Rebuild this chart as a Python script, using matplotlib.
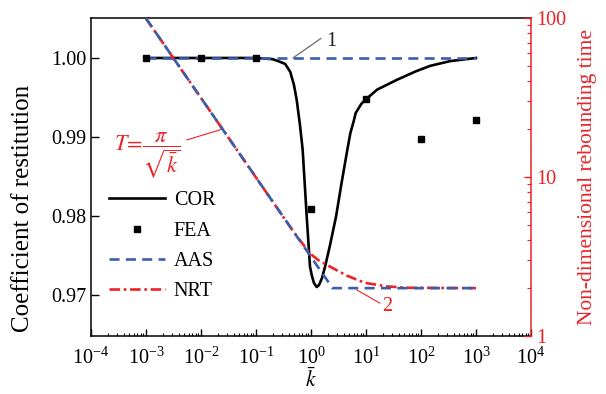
import matplotlib
matplotlib.use('Agg')
import matplotlib.pyplot as plt
from matplotlib.ticker import LogLocator, FixedLocator, NullFormatter, FuncFormatter

plt.rcParams['font.family'] = ['Liberation Serif', 'DejaVu Serif']
plt.rcParams['mathtext.fontset'] = 'stix'

# ---------------- data ----------------
cor_k = [1e-3, 1e-2, 0.1, 0.2, 0.27, 0.34, 0.42, 0.49, 0.55, 0.63, 0.706, 0.836, 0.959,
         1.04, 1.13, 1.27, 1.40, 1.585, 1.80, 2.2, 2.85, 3.6, 4.57, 5.2, 5.87, 6.5, 8.2,
         9.6, 16.0, 36.1, 80.0, 146, 336, 1000]
cor_val = [1.0, 1.0, 1.0, 0.99985, 0.99953, 0.99924, 0.99823, 0.99658, 0.99468, 0.99152,
           0.98835, 0.97991, 0.97358, 0.97241, 0.97152, 0.97101, 0.97127, 0.97215,
           0.97358, 0.97620, 0.97991, 0.98420, 0.98835, 0.99051, 0.99180, 0.99304,
           0.99418, 0.99468, 0.99600, 0.99722, 0.99830, 0.99900, 0.99960, 1.0]

fea_k = [1e-3, 1e-2, 1e-1, 1e0, 1e1, 1e2, 1e3]
fea_val = [1.0, 1.0, 1.0, 0.9809, 0.9948, 0.9898, 0.9921]

aas_cor_k = [1e-3, 1e3]
aas_cor_val = [1.0, 1.0]

aas_t_k = [1e-3, 2.47, 1e3]
aas_t_val = [99.3, 2.0, 2.0]

nrt_k = [1e-3, 0.1, 0.476, 0.96, 1.36, 1.93, 4.46, 7.78, 10.3, 23.8, 60, 1000]
nrt_val = [99.3, 9.93, 4.55, 3.3, 3.0, 2.8, 2.40, 2.22, 2.15, 2.05, 2.01, 2.0]

x_ticks = [1e-4, 1e-3, 1e-2, 1e-1, 1e0, 1e1, 1e2, 1e3, 1e4]
y_ticks = [0.97, 0.98, 0.99, 1.00]
y2_ticks = [1, 10, 100]

RED = '#ec2227'
BLUE = '#3a5dae'
FS = 14.5

fig = plt.figure(figsize=(6.06, 3.94), dpi=100)
ax = fig.add_axes([91/606, 1-336/394, 440/606, 318/394])
ax.set_xscale('log')
ax.set_xlim(1e-4, 1e4)
ax.set_ylim(0.96481, 1.00506)

ax2 = ax.twinx()
ax2.set_yscale('log')
ax2.set_ylim(1, 100)

# left-axis series
l_cor, = ax.plot(cor_k, cor_val, color='black', lw=1.9, zorder=3)
l_fea, = ax.plot(fea_k, fea_val, ls='none', marker='s', ms=4.2, color='black', zorder=5)
l_aas, = ax.plot(aas_cor_k, aas_cor_val, color=BLUE, lw=1.9, dashes=(3.8, 2.4), zorder=4)

# right-axis series
l_nrt, = ax2.plot(nrt_k, nrt_val, color=RED, lw=1.9, dashes=(4.0, 1.4, 1.0, 1.4), zorder=3)
ax2.plot(aas_t_k, aas_t_val, color=BLUE, lw=1.9, dashes=(3.8, 2.4), zorder=4)

# axes styling
ax.xaxis.set_major_locator(FixedLocator(x_ticks))
ax.xaxis.set_minor_locator(LogLocator(base=10, subs=range(2, 10), numticks=30))
ax.xaxis.set_minor_formatter(NullFormatter())
ax.yaxis.set_major_locator(FixedLocator(y_ticks))
ax.yaxis.set_major_formatter(FuncFormatter(lambda v, p: '%.2f' % v))
ax.tick_params(axis='x', which='major', direction='in', length=5, width=1, labelsize=FS, pad=8)
ax.tick_params(axis='x', which='minor', direction='in', length=2.5, width=0.8)
ax.tick_params(axis='y', direction='in', length=6, width=1, labelsize=FS)
ax.spines['right'].set_visible(False)
for s in ['left', 'bottom', 'top']:
    ax.spines[s].set_linewidth(1.1)

ax2.yaxis.set_major_locator(FixedLocator(y2_ticks))
ax2.yaxis.set_major_formatter(FuncFormatter(lambda v, p: '%g' % v))
ax2.yaxis.set_minor_formatter(NullFormatter())
ax2.tick_params(axis='y', which='major', direction='in', length=5, width=1, colors=RED,
                labelsize=FS, pad=4)
ax2.tick_params(axis='y', which='minor', direction='in', length=3, width=0.8, colors=RED)
ax2.spines['right'].set_color(RED)
ax2.spines['right'].set_linewidth(1.1)
for s in ['left', 'bottom', 'top']:
    ax2.spines[s].set_visible(False)

ax.set_ylabel('Coefficient of restitution', fontsize=18)
ax.yaxis.set_label_coords(-0.13, 0.40)
ax2.set_ylabel('Non-dimensional rebounding time', fontsize=FS + 1, color=RED, labelpad=8)
ax.set_xlabel(r'$\bar{k}$', fontsize=FS + 1, labelpad=0)

# annotations
ax.annotate('', xy=(0.47, 1.0), xytext=(1.52, 1.00248),
            arrowprops=dict(arrowstyle='-', color='#777777', lw=1, shrinkA=0, shrinkB=0))
ax.text(1.87, 1.00206, '1', fontsize=FS, color='#222222', ha='left', va='center')

ax2.annotate('', xy=(6.78, 1.95), xytext=(17.97, 1.607),
             arrowprops=dict(arrowstyle='-', color=RED, lw=0.8, shrinkA=0, shrinkB=0))
ax2.text(23.8, 1.528, '2', fontsize=FS, color=RED, ha='center', va='center')

ax2.annotate('', xy=(0.02377, 19.95), xytext=(0.0055, 17.1),
             arrowprops=dict(arrowstyle='-', color=RED, lw=0.8, shrinkA=0, shrinkB=0))
ax2.text(1.04e-3, 13.7, r'$T\!=\!\dfrac{\pi}{\sqrt{\bar{k}}}$', fontsize=16, color=RED,
         ha='center', va='center')

leg = ax2.legend([l_cor, l_fea, l_aas, l_nrt], ['COR', 'FEA', 'AAS', 'NRT'],
                 loc='upper left', bbox_to_anchor=(0.042, 0.455), frameon=False,
                 fontsize=FS, handlelength=2.75, handletextpad=0.45, labelspacing=0.55,
                 borderpad=0, borderaxespad=0)

fig.savefig('out.png', dpi=100)
